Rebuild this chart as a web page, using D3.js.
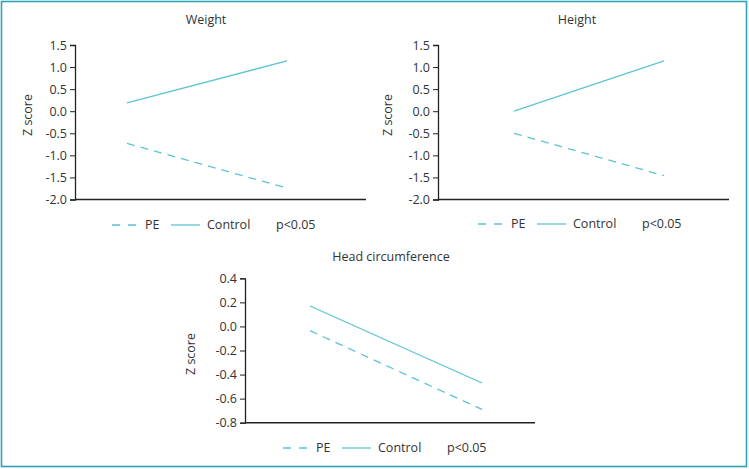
<!DOCTYPE html>
<html>
<head>
<meta charset="utf-8">
<script src="https://cdn.jsdelivr.net/npm/d3@7"></script>
<style>
  html, body { margin: 0; padding: 0; background: #fff; }
  svg { display: block; }
  text { font-family: "Open Sans", "Noto Sans", sans-serif; fill: #333; }
</style>
</head>
<body>
<svg id="chart" width="749" height="469"></svg>
<script>
// ---- Data ----
const timePoints = ["Baseline", "Follow-up"];
const seriesNames = ["PE", "Control"];
const weightPE = [-0.73, -1.74];
const weightControl = [0.19, 1.14];
const heightPE = [-0.5, -1.46];
const heightControl = [0.0, 1.14];
const headPE = [-0.035, -0.69];
const headControl = [0.17, -0.47];
const zTicks = [-2.0, -1.5, -1.0, -0.5, 0.0, 0.5, 1.0, 1.5];
const headTicks = [-0.8, -0.6, -0.4, -0.2, 0.0, 0.2, 0.4];
const titles = ["Weight", "Height", "Head circumference"];
const yLabel = "Z score";
const pLabel = "p<0.05";

// ---- Layout / style ----
const lineColor = "#5cc4d3";
const axisColor = "#222";
const svg = d3.select("#chart");

svg.append("rect")
  .attr("x", 1.5).attr("y", 1.5).attr("width", 745).attr("height", 465)
  .attr("fill", "none").attr("stroke", "#2ba3b6").attr("stroke-width", 1.6);

const panels = [
  { title: titles[0], pe: weightPE, ctrl: weightControl, ticks: zTicks,
    axisX: 75, xEnd: 366, top: 45, bottom: 199.5, x0: 127, x1: 287,
    titleX: 206, titleY: 24, ylabX: 28, ylabY: 115, legX: 112, legY: 225 },
  { title: titles[1], pe: heightPE, ctrl: heightControl, ticks: zTicks,
    axisX: 438, xEnd: 729, top: 45, bottom: 199.5, x0: 514, x1: 664,
    titleX: 577, titleY: 24, ylabX: 388, ylabY: 115, legX: 478, legY: 224 },
  { title: titles[2], pe: headPE, ctrl: headControl, ticks: headTicks,
    axisX: 245, xEnd: 535, top: 278.3, bottom: 422.7, x0: 310, x1: 482,
    titleX: 391, titleY: 261, ylabX: 191, ylabY: 354, legX: 283, legY: 448 }
];

panels.forEach(p => {
  const g = svg.append("g");
  const y = d3.scaleLinear()
    .domain(d3.extent(p.ticks))
    .range([p.bottom, p.top]);
  const x = d3.scalePoint().domain(timePoints).range([p.x0, p.x1]);

  // title
  g.append("text").attr("x", p.titleX).attr("y", p.titleY)
    .attr("text-anchor", "middle").style("font-size", "12.5px").text(p.title);

  // y axis
  const yAxis = d3.axisLeft(y).tickValues(p.ticks).tickFormat(d => d.toFixed(1))
    .tickSizeOuter(0).tickSize(5).tickPadding(3);
  const ya = g.append("g").attr("transform", `translate(${p.axisX},0)`).call(yAxis);
  ya.select(".domain").attr("stroke", axisColor).attr("stroke-width", 1.3);
  ya.selectAll(".tick line").attr("stroke", axisColor).attr("stroke-width", 1);
  ya.selectAll(".tick text").style("font-size", "12.5px").style("font-family", "'Open Sans', 'Noto Sans', sans-serif").attr("fill", "#333");

  // x axis baseline
  g.append("line")
    .attr("x1", p.axisX).attr("x2", p.xEnd)
    .attr("y1", y(p.ticks[0])).attr("y2", y(p.ticks[0]))
    .attr("stroke", axisColor).attr("stroke-width", 1.5);

  // y label
  g.append("text")
    .attr("transform", `translate(${p.ylabX},${p.ylabY}) rotate(-90)`)
    .attr("text-anchor", "middle").attr("dy", "0.35em")
    .style("font-size", "12.5px").text(yLabel);

  const line = d3.line().x((d, i) => x(timePoints[i])).y(d => y(d));

  g.append("path").datum(p.ctrl).attr("d", line)
    .attr("fill", "none").attr("stroke", lineColor).attr("stroke-width", 1.3);
  g.append("path").datum(p.pe).attr("d", line)
    .attr("fill", "none").attr("stroke", lineColor).attr("stroke-width", 1.3)
    .attr("stroke-dasharray", "8,6");

  // legend
  const lg = g.append("g").attr("transform", `translate(${p.legX},${p.legY})`);
  lg.append("line").attr("x1", 0).attr("x2", 24).attr("y1", 0).attr("y2", 0)
    .attr("stroke", lineColor).attr("stroke-width", 1.3).attr("stroke-dasharray", "8,8");
  lg.append("text").attr("x", 33).attr("y", 0).attr("dy", "0.35em")
    .style("font-size", "12.5px").text(seriesNames[0]);
  lg.append("line").attr("x1", 59).attr("x2", 88).attr("y1", 0).attr("y2", 0)
    .attr("stroke", lineColor).attr("stroke-width", 1.3);
  lg.append("text").attr("x", 95).attr("y", 0).attr("dy", "0.35em")
    .style("font-size", "12.5px").text(seriesNames[1]);
  lg.append("text").attr("x", 164).attr("y", 0).attr("dy", "0.35em")
    .style("font-size", "12.5px").text(pLabel);
});
</script>
</body>
</html>
